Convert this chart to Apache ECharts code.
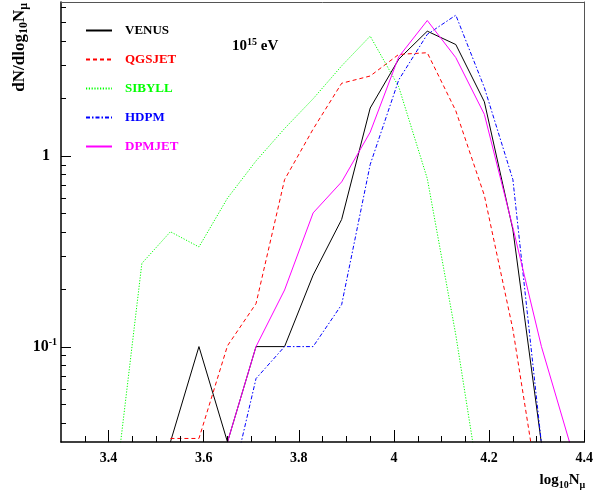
<!DOCTYPE html>
<html><head><meta charset="utf-8">
<script src="https://cdn.jsdelivr.net/npm/echarts@6/dist/echarts.min.js"></script>
<style>html,body{margin:0;padding:0;background:#fff}#c{width:596px;height:500px}</style>
</head><body><div id="c"></div>
<script>
// bin centres of log10(N_mu)
const binCenters = [3.41,3.47,3.53,3.59,3.65,3.71,3.77,3.83,3.89,3.95,4.01,4.07,4.13,4.19,4.25,4.31,4.37];
// dN/dlog10(N_mu) per model (null = no point; values below 10^-1.5 fall under the frame)
const venus  = [null, null, 0.0316, 0.1, 0.0316, 0.1, 0.1, 0.237, 0.464, 1.78, 3.21, 4.50, 3.83, 1.92, 0.41, 0.031, null];
const qgsjet = [null, null, 0.033, 0.033, 0.101, 0.168, 0.75, 1.38, 2.40, 2.62, 3.40, 3.47, 1.72, 0.62, 0.123, 0.014, null];
const sibyll = [0.015, 0.273, 0.40, 0.333, 0.60, 0.94, 1.39, 1.99, 2.96, 4.24, 2.3, 0.76, 0.115, 0.013, null, null, null];
const hdpm   = [null, null, null, null, 0.0155, 0.068, 0.1, 0.1, 0.166, 0.9, 2.5, 4.33, 5.46, 2.28, 0.75, 0.031, null];
const dpmjet = [null, null, null, null, 0.0316, 0.1, 0.198, 0.502, 0.73, 1.33, 3.3, 5.12, 3.27, 1.65, 0.42, 0.10, 0.031];

const seriesNames = ['VENUS','QGSJET','SIBYLL','HDPM','DPMJET'];
const xTickLabels = [3.4, 3.6, 3.8, 4.0, 4.2, 4.4];
const xMinorTicks = [3.35,3.45,3.5,3.55,3.65,3.7,3.75,3.85,3.9,3.95,4.05,4.1,4.15,4.25,4.3,4.35];
const yTickLabels = [0.1, 1];
const yMinorTicks = [0.04,0.05,0.06,0.07,0.08,0.09,0.2,0.3,0.4,0.5,0.6,0.7,0.8,0.9,2,3,4,5,6];

const FONT = '"Liberation Serif", "Times New Roman", serif';
const X_MIN = 3.3, X_MAX = 4.4;
const Y_MIN = Math.pow(10, -1.5), Y_MAX = 6.4;

function pairs(vals) { return binCenters.map((x, i) => [x, vals[i]]); }

const styles = [
  {color: '#000000', type: 'solid', width: 1},
  {color: '#ff0000', type: [4, 3], width: 1},
  {color: '#00ff00', type: [1.2, 1.6], width: 1},
  {color: '#0000ff', type: [4, 2, 1.5, 2], width: 1},
  {color: '#ff00ff', type: 'solid', width: 1}
];
const allData = [venus, qgsjet, sibyll, hdpm, dpmjet];

const chart = echarts.init(document.getElementById('c'), null, {renderer: 'canvas'});
const supRich = {
  b: {fontFamily: FONT, fontWeight: 'bold', fontSize: 15, color: '#000', lineHeight: 18},
  s: {fontFamily: FONT, fontWeight: 'bold', fontSize: 10, color: '#000', lineHeight: 10, verticalAlign: 'top'}
};
const hidden = {axisLabel: {show: false}, splitLine: {show: false}};
chart.setOption({
  animation: false,
  backgroundColor: '#fff',
  title: {
    text: '{b|10}{s|15}{b| eV}',
    left: 227, top: 32,
    textStyle: {rich: supRich}
  },
  legend: {
    orient: 'vertical', left: 80, top: 19,
    itemWidth: 26, itemHeight: 14, itemGap: 16,
    itemStyle: {color: 'transparent', borderWidth: 0, opacity: 0},
    textStyle: {fontFamily: FONT, fontWeight: 'bold', fontSize: 13, padding: [0, 0, 0, 8]},
    data: seriesNames.map((n, i) => ({name: n, textStyle: {color: styles[i].color}}))
  },
  grid: {left: 61, top: 1, width: 528, height: 441, show: false, backgroundColor: 'transparent', containLabel: false},
  xAxis: [{
    type: 'value', min: X_MIN, max: X_MAX, position: 'bottom', z: 5,
    axisLine: {show: true, onZero: false, lineStyle: {color: '#000', width: 1.5}},
    axisTick: {show: true, inside: true, length: 12, customValues: xTickLabels, lineStyle: {color: '#000', width: 1}},
    axisLabel: {customValues: xTickLabels, margin: 9, fontFamily: FONT, fontWeight: 'bold', fontSize: 14, color: '#000',
      formatter: v => String(Math.round(v * 10) / 10)},
    splitLine: {show: false},
    name: '{a|log}{sub|10}{a|N}{sub|μ}', nameLocation: 'end', nameGap: 1,
    nameTextStyle: {align: 'right', verticalAlign: 'top', padding: [29, 0, 0, 0],
      rich: {
        a: {fontFamily: FONT, fontWeight: 'bold', fontSize: 15, color: '#000', lineHeight: 19},
        sub: {fontFamily: FONT, fontWeight: 'bold', fontSize: 10, color: '#000', lineHeight: 10, verticalAlign: 'bottom'}
      }}
  }, Object.assign({
    type: 'value', min: X_MIN, max: X_MAX, position: 'bottom', offset: 0, z: 5,
    axisLine: {show: false, onZero: false},
    axisTick: {show: true, inside: true, length: 6, customValues: xMinorTicks, lineStyle: {color: '#000', width: 1}}
  }, hidden), Object.assign({
    type: 'value', min: X_MIN, max: X_MAX, position: 'top', z: 5,
    axisLine: {show: true, onZero: false, lineStyle: {color: '#555', width: 1}},
    axisTick: {show: false}
  }, hidden)],
  yAxis: [{
    type: 'log', logBase: 10, min: Y_MIN, max: Y_MAX, position: 'left', z: 5,
    axisLine: {show: true, onZero: false, lineStyle: {color: '#000', width: 1.5}},
    axisTick: {show: false},
    axisLabel: {customValues: yTickLabels, margin: 4,
      formatter: v => (Math.abs(v - 1) < 1e-6 ? '{b|1}{p|}' : '{b|10}{s|-1}'),
      rich: Object.assign({}, supRich, {b: Object.assign({}, supRich.b, {fontSize: 16}), p: {width: 7}})},
    splitLine: {show: false},
    name: '{a|dN/dlog}{sub|10}{a|N}{sub|μ}', nameLocation: 'end', nameRotate: 90, nameGap: -1,
    nameTextStyle: {align: 'right', verticalAlign: 'bottom', padding: [0, 0, 31, 0],
      rich: {
        a: {fontFamily: FONT, fontWeight: 'bold', fontSize: 17, color: '#000', lineHeight: 21},
        sub: {fontFamily: FONT, fontWeight: 'bold', fontSize: 12, color: '#000', lineHeight: 12, verticalAlign: 'bottom'}
      }}
  }, Object.assign({
    type: 'log', logBase: 10, min: Y_MIN, max: Y_MAX, position: 'right', z: 5,
    axisLine: {show: true, onZero: false, lineStyle: {color: '#555', width: 1}},
    axisTick: {show: false}
  }, hidden)],
  series: seriesNames.map((n, i) => ({
    name: n, type: 'line', xAxisIndex: 0, yAxisIndex: 0,
    data: pairs(allData[i]),
    showSymbol: false, symbol: 'none', clip: true, connectNulls: false,
    lineStyle: styles[i], itemStyle: {color: styles[i].color},
    emphasis: {disabled: true}
  }))
});

// y-axis ticks placed through the chart's own log scale
const ticks = [];
const xLeft = chart.convertToPixel({xAxisIndex: 0}, X_MIN);
function yTick(v, len) {
  const py = Math.round(chart.convertToPixel({yAxisIndex: 0}, v)) + 0.5;
  ticks.push({type: 'line', silent: true, z: 100, shape: {x1: xLeft, y1: py, x2: xLeft + len, y2: py}, style: {stroke: '#000', lineWidth: 1}});
}
yTickLabels.forEach(v => yTick(v, 10));
yMinorTicks.forEach(v => yTick(v, 5));
chart.setOption({graphic: {elements: ticks}});
</script></body></html>
